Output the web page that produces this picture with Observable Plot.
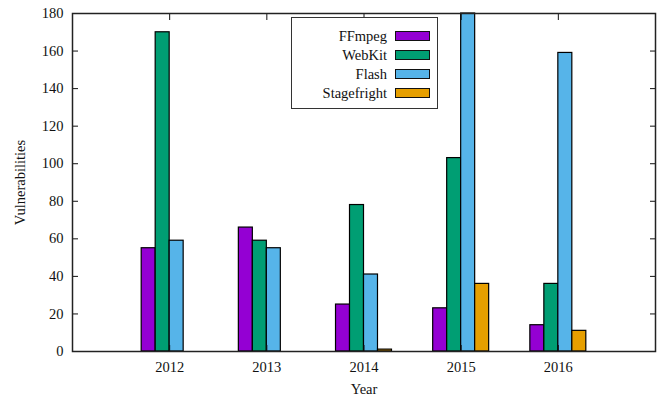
<!DOCTYPE html>
<html>
<head>
<meta charset="utf-8">
<script src="https://cdn.jsdelivr.net/npm/d3@7"></script>
<script src="https://cdn.jsdelivr.net/npm/@observablehq/plot@0.6"></script>
<style>
  html, body { margin: 0; padding: 0; background: #fff; }
  #chart { position: relative; width: 660px; height: 399px; font-family: "Liberation Serif", "DejaVu Serif", serif; }
  #chart svg, #chart svg text { font-family: "Liberation Serif", "DejaVu Serif", serif !important; }
  #legend { position: absolute; left: 291px; top: 17px; width: 147px; height: 92px; border: 1px solid #333; background: #fff; box-sizing: border-box; }
  .row { position: absolute; left: 0; width: 147px; height: 19px; }
  .row span.lab { position: absolute; right: 52px; top: 0; line-height: 19px; font-size: 14.5px; color: #111; white-space: nowrap; }
  .row span.sw { position: absolute; left: 103px; top: 4px; width: 35px; height: 10px; border: 1px solid #111; box-sizing: border-box; }
</style>
</head>
<body>
<div id="chart"><div id="legend"></div></div>
<script>
// Vulnerability counts per year for each component
const years = [2012, 2013, 2014, 2015, 2016];
const seriesNames = ["FFmpeg", "WebKit", "Flash", "Stagefright"];
const seriesColors = ["#9400d3", "#009e73", "#56b4e9", "#e69f00"];
const ffmpeg = [55, 66, 25, 23, 14];
const webkit = [170, 59, 78, 103, 36];
const flash = [59, 55, 41, 180, 159];
const stagefright = [0, 0, 1, 36, 11];
const yTicks = [0, 20, 40, 60, 80, 100, 120, 140, 160, 180];

const values = [ffmpeg, webkit, flash, stagefright];
const barWidth = 0.144; // in year units

// clustered bars: four bars per year, centred on the year
const rows = [];
values.forEach((vals, i) => {
  vals.forEach((v, j) => {
    rows.push({
      series: seriesNames[i],
      year: years[j],
      value: v,
      x1: years[j] + (i - 2) * barWidth,
      x2: years[j] + (i - 1) * barWidth
    });
  });
});

const plot = Plot.plot({
  width: 660,
  height: 399,
  marginLeft: 72,
  marginRight: 5,
  marginTop: 13,
  marginBottom: 48,
  style: { fontFamily: "'Liberation Serif', serif", fontSize: "14.5px", color: "#111", background: "#fff" },
  x: { domain: [2011, 2017] },
  y: { domain: [0, 180] },
  color: { domain: seriesNames, range: seriesColors },
  marks: [
    Plot.rect(rows, { x1: "x1", x2: "x2", y1: 0, y2: "value", fill: "series", stroke: "#000", strokeWidth: 1.2 }),
    Plot.axisY({ anchor: "left", ticks: yTicks, tickSize: -6, tickPadding: 15, label: "Vulnerabilities", labelAnchor: "center", labelOffset: 58, labelArrow: "none" }),
    Plot.axisY({ anchor: "right", ticks: yTicks, tickSize: -6, tickFormat: () => "", label: null }),
    Plot.axisX({ anchor: "bottom", ticks: years, tickSize: -6, tickPadding: 16, tickFormat: d3.format("d"), label: "Year", labelAnchor: "center", labelOffset: 42, labelArrow: "none" }),
    Plot.axisX({ anchor: "top", ticks: years, tickSize: -6, tickFormat: () => "", label: null }),
    Plot.frame({ stroke: "#222", strokeWidth: 1.5 })
  ]
});

const chart = document.getElementById("chart");
chart.insertBefore(plot, chart.firstChild);

const legend = document.getElementById("legend");
seriesNames.forEach((name, i) => {
  const row = document.createElement("div");
  row.className = "row";
  row.style.top = (9 + i * 19) + "px";
  const lab = document.createElement("span");
  lab.className = "lab";
  lab.textContent = name;
  const sw = document.createElement("span");
  sw.className = "sw";
  sw.style.background = seriesColors[i];
  row.appendChild(lab);
  row.appendChild(sw);
  legend.appendChild(row);
});
</script>
</body>
</html>
